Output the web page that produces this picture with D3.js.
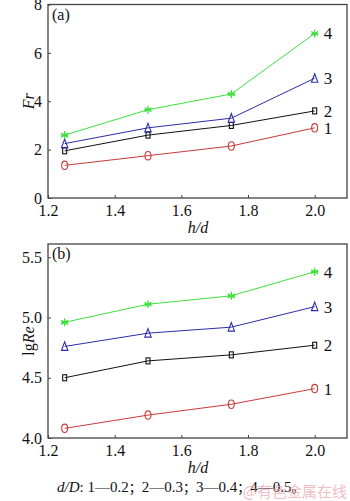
<!DOCTYPE html>
<html>
<head>
<meta charset="utf-8">
<script src="https://cdn.jsdelivr.net/npm/d3@7"></script>
<style>
  body { margin: 0; background: #fff; }
  svg { display: block; }
  text { font-family: "Liberation Serif", "Times New Roman", "DejaVu Serif", serif !important; }
  text.cjk, tspan.cjk { font-family: "Noto Sans CJK SC", sans-serif !important; }
</style>
</head>
<body>
<svg id="chart" width="350" height="501" font-family="Liberation Serif"></svg>
<script>
// h/d values shared by both panels
const hd = [1.25, 1.5, 1.75, 2.0];
const seriesNames = ["1", "2", "3", "4"];
const seriesColors = ["#c83a3a", "#111111", "#2c2ca8", "#3ee03e"];
const seriesMarkers = ["circle", "square", "triangle", "star"];

// panel (a): Fr
const fr1 = [1.35, 1.75, 2.15, 2.9];
const fr2 = [1.95, 2.6, 3.0, 3.6];
const fr3 = [2.25, 2.9, 3.3, 4.95];
const fr4 = [2.6, 3.65, 4.3, 6.8];

// panel (b): lg Re
const re1 = [4.08, 4.19, 4.28, 4.41];
const re2 = [4.5, 4.64, 4.69, 4.77];
const re3 = [4.76, 4.87, 4.92, 5.09];
const re4 = [4.96, 5.11, 5.18, 5.38];

const xTicks = [1.2, 1.4, 1.6, 1.8, 2.0];
const frTicks = [0, 2, 4, 6, 8];
const reTicks = [4.0, 4.5, 5.0, 5.5];

const svg = d3.select("#chart");

const x = d3.scaleLinear().domain([1.2, 2.1]).range([48, 348]);

function marker(g, type, color) {
    if (type === "circle") {
        g.append("ellipse").attr("rx", 3).attr("ry", 4.2)
            .attr("fill", "none").attr("stroke", color).attr("stroke-width", 1.1);
    } else if (type === "square") {
        g.append("rect").attr("x", -2).attr("y", -3).attr("width", 4).attr("height", 6)
            .attr("fill", "none").attr("stroke", color).attr("stroke-width", 1.1);
    } else if (type === "triangle") {
        g.append("path").attr("d", "M0,-4.5L3.2,4L-3.2,4Z")
            .attr("fill", "none").attr("stroke", color).attr("stroke-width", 1.1);
    } else {
        g.append("path").attr("d", "M0,-4V4M-3.5,-2L3.5,2M-3.5,2L3.5,-2M-3.5,0H3.5")
            .attr("fill", "none").attr("stroke", color).attr("stroke-width", 1.3);
    }
}

function panel(opts) {
    const y = d3.scaleLinear().domain(opts.domain).range(opts.range);
    const g = svg.append("g");
    const top = opts.range[1], bottom = opts.range[0];

    // frame
    g.append("rect").attr("x", 48).attr("y", top)
        .attr("width", 299).attr("height", bottom - top)
        .attr("fill", "none").attr("stroke", "#444").attr("stroke-width", 1.3);

    const xAxis = g.append("g").attr("transform", `translate(0,${bottom})`)
        .call(d3.axisBottom(x).tickValues(xTicks).tickFormat(d3.format(".1f"))
            .tickSizeInner(-3).tickSizeOuter(0).tickPadding(7));
    const yAxis = g.append("g").attr("transform", "translate(48,0)")
        .call(d3.axisLeft(y).tickValues(opts.ticks).tickFormat(opts.fmt)
            .tickSizeInner(-3).tickSizeOuter(0).tickPadding(6));
    [xAxis, yAxis].forEach(a => {
        a.attr("font-family", null);
        a.select(".domain").remove();
        a.selectAll("line").attr("stroke", "#444");
        a.selectAll("text").attr("font-size", 16).attr("fill", "#111");
    });
    yAxis.selectAll("text").attr("dy", "0.32em");

    const line = d3.line().x((d, i) => x(hd[i])).y(d => y(d));
    opts.series.forEach((vals, k) => {
        g.append("path").datum(vals).attr("d", line)
            .attr("fill", "none").attr("stroke", seriesColors[k]).attr("stroke-width", 1);
        vals.forEach((v, i) => {
            const m = g.append("g").attr("transform", `translate(${x(hd[i])},${y(v)})`);
            marker(m, seriesMarkers[k], seriesColors[k]);
        });
        g.append("text").attr("x", x(hd[3]) + 9).attr("y", y(vals[3]))
            .attr("dy", "0.35em").attr("font-size", 17).attr("fill", "#111")
            .text(seriesNames[k]);
    });

    g.append("text").attr("x", 52).attr("y", top + 15)
        .attr("font-size", 16).attr("fill", "#111").text(opts.tag);

    g.append("text").attr("x", (x(1.2) + x(2.1)) / 2).attr("y", bottom + 35)
        .attr("text-anchor", "middle").attr("font-size", 16).attr("font-style", "italic")
        .attr("fill", "#111").text("h/d");

    const yl = g.append("text")
        .attr("transform", `translate(34,${(top + bottom) / 2}) rotate(-90)`)
        .attr("text-anchor", "middle").attr("font-size", 16).attr("fill", "#111");
    opts.ylabel.forEach(p => yl.append("tspan").attr("font-style", p[1] ? "italic" : "normal").text(p[0]));
}

panel({
    domain: [0, 8], range: [198, 4.5], ticks: frTicks, fmt: d3.format("d"),
    series: [fr1, fr2, fr3, fr4],
    tag: "(a)", ylabel: [["Fr", true]]
});

panel({
    domain: [4.0, 5.61], range: [438, 244], ticks: reTicks, fmt: d3.format(".1f"),
    series: [re1, re2, re3, re4],
    tag: "(b)", ylabel: [["lg", false], ["Re", true]]
});

// caption
const cap = svg.append("text").attr("x", 57).attr("y", 492)
    .attr("font-size", 15).attr("fill", "#111");
cap.append("tspan").attr("font-style", "italic").text("d/D");
cap.append("tspan").text(": 1\u20140.2");
cap.append("tspan").attr("class", "cjk").attr("font-size", 13).text("；");
cap.append("tspan").text("2\u20140.3");
cap.append("tspan").attr("class", "cjk").attr("font-size", 13).text("；");
cap.append("tspan").text("3\u20140.4");
cap.append("tspan").attr("class", "cjk").attr("font-size", 13).text("；");
cap.append("tspan").text("4\u20140.5");
cap.append("tspan").attr("class", "cjk").attr("font-size", 13).text("。");

// watermark
svg.append("text").attr("class", "cjk").attr("x", 347).attr("y", 497).attr("text-anchor", "end")
    .attr("font-size", 15).attr("fill", "#e8a0a8").attr("fill-opacity", 0.7).text("@有色金属在线");
</script>
</body>
</html>
